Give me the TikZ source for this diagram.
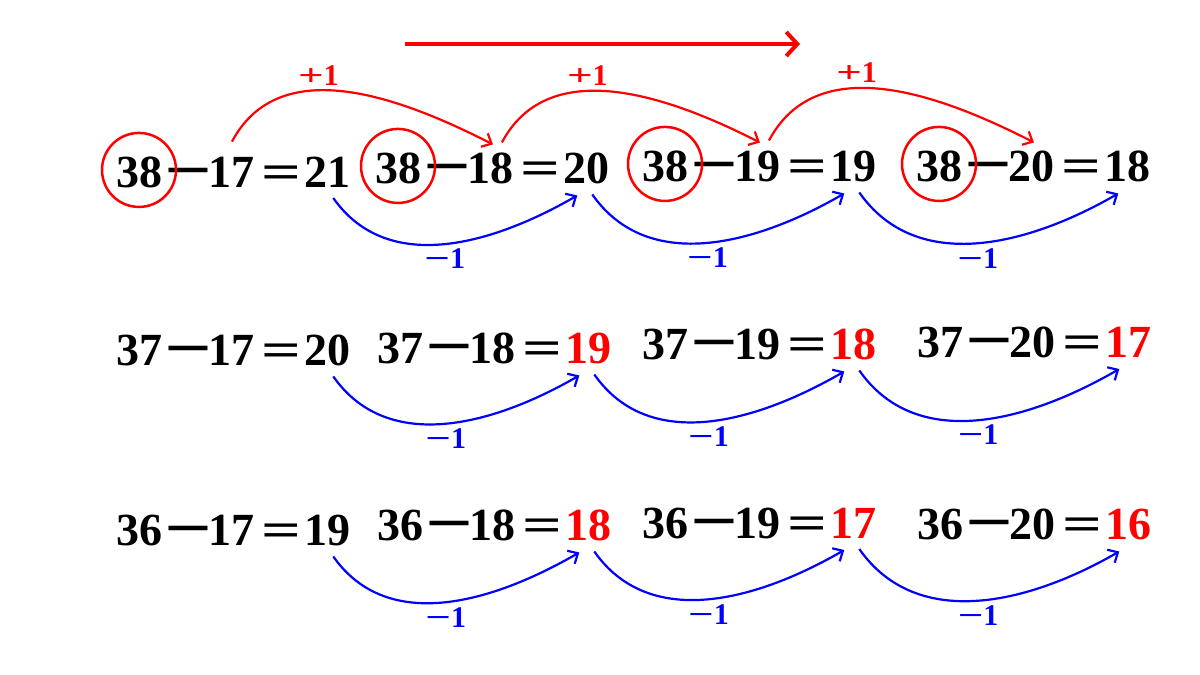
\documentclass[tikz,border=0pt]{standalone}
\usepackage{fontspec}
\setmainfont{Liberation Serif}
\usepackage{graphicx}
\usetikzlibrary{positioning,arrows.meta}
\newcommand{\Mn}{\raisebox{2pt}{\scalebox{1.65}[1.4]{–}}}
\newcommand{\Eqs}{\raisebox{-1pt}{\scalebox{1.52}[1.05]{=}}}
\newcommand{\Op}[1]{\scalebox{1.5}[1]{#1}}
\newcommand{\RD}[1]{\textcolor{red}{#1}}

\begin{document}
\begin{tikzpicture}[x=1pt, y=1pt, >={Straight Barb[length=8pt,width=15pt]}]

  \fontsize{46}{50}\selectfont\bfseries

  \tikzset{
    num/.style={inner sep=0pt, outer sep=0pt},
    ring/.style={draw=red, line width=2.5pt, circle, minimum size=74pt, inner sep=0pt},
    up/.style={red, line width=2.2pt, ->},
    down/.style={blue, line width=2.2pt, ->},
    lbl/.style={inner sep=1pt, font=\fontsize{30}{32}\selectfont\bfseries}
  }

  \useasboundingbox (0,0) rectangle (1200,-675);

  % name, x, baseline, minuend, subtrahend, result
  \newcommand\Eq[6]{
    \node[num, anchor=base west] (#1-a) at (#2,-#3) {#4};
    \node[num, base right=7pt of #1-a] (#1-m) {\Mn};
    \node[num, base right=2pt of #1-m] (#1-b) {#5};
    \node[num, base right=6.5pt of #1-b] (#1-e) {\Eqs};
    \node[num, base right=3pt of #1-e] (#1-c) {#6};
  }

  \Eq{p1}{116}{187}{38}{17}{21}
  \Eq{p2}{375}{183}{38}{18}{20}
  \Eq{p3}{642}{181}{38}{19}{19}
  \Eq{p4}{916}{181}{38}{20}{18}

  \Eq{q1}{116}{365}{37}{17}{20}
  \Eq{q2}{377}{363}{37}{18}{\RD{19}}
  \Eq{q3}{642}{359}{37}{19}{\RD{18}}
  \Eq{q4}{917}{357}{37}{20}{\RD{17}}

  \Eq{r1}{116}{545}{36}{17}{19}
  \Eq{r2}{377}{540}{36}{18}{\RD{18}}
  \Eq{r3}{642}{538}{36}{19}{\RD{17}}
  \Eq{r4}{917}{539}{36}{20}{\RD{16}}

  \foreach \i in {1,...,4}
    \node[ring] (o\i) at ([yshift=2pt]p\i-a.center) {};

  \coordinate (dirA) at (405,-44);
  \coordinate (dirB) at (800,-44);
  \draw[red, line width=4pt, -{Straight Barb[length=11pt,width=24pt]}] (dirA) -- (dirB);

  \draw[up] ([shift={(0,15)}]p1-b.north) to[out=62, in=153]
    node[lbl, above=3pt, pos=0.4] {\Op{+}1} ([shift={(2,8)}]p2-b.north); %% 17->18
  \draw[up] ([shift={(11,10)}]p2-b.north) to[out=62, in=153]
    node[lbl, above=3pt, pos=0.4] {\Op{+}1} ([shift={(2,8)}]p3-b.north); %% 18->19
  \draw[up] ([shift={(11,10)}]p3-b.north) to[out=62, in=153]
    node[lbl, above=3pt, pos=0.4] {\Op{+}1} ([shift={(2,8)}]p4-b.north); %% 19->20

  \foreach \row in {p,q,r}
    \foreach \i/\j in {1/2,2/3,3/4}
      \draw[down] ([shift={(6,-11)}]\row\i-c.south) to[out=-55, in=210]
        node[lbl, below=3pt, pos=0.5] {\Op{−}1} ([shift={(-9,-12)}]\row\j-c.south);

\end{tikzpicture}
\end{document}
